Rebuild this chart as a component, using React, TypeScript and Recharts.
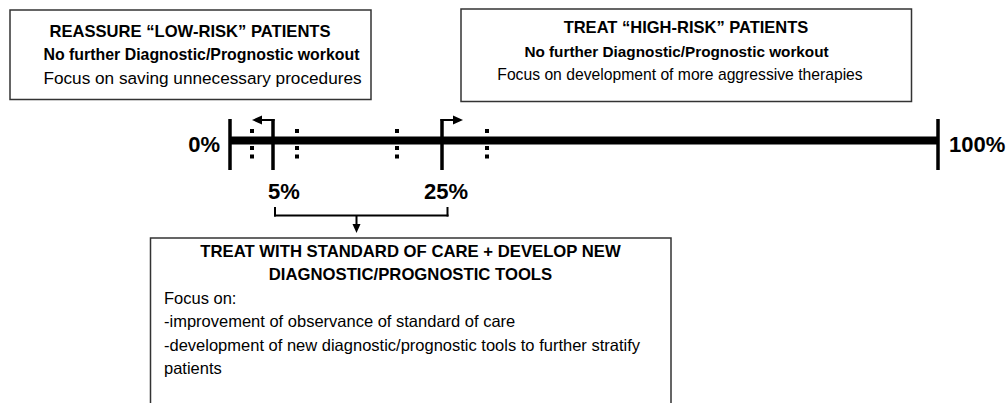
import React from 'react';
import { ScatterChart, Scatter, XAxis, YAxis, ReferenceLine, ReferenceArea } from 'recharts';

const W = 1007;
const H = 403;
const FONT = '"Liberation Sans", Arial, Helvetica, sans-serif';

// ---- risk scale ----
const thresholdLabels = ['0%', '5%', '25%', '100%'];
const thresholdPos = [230, 273, 442, 938];
const dottedPos = [252, 297, 397, 487];

// ---- box texts ----
const lowRiskLines = [
  'REASSURE \u201cLOW-RISK\u201d PATIENTS',
  'No further Diagnostic/Prognostic workout',
  'Focus on saving unnecessary procedures',
];
const highRiskLines = [
  'TREAT \u201cHIGH-RISK\u201d PATIENTS',
  'No further Diagnostic/Prognostic workout',
  'Focus on development of more aggressive therapies',
];
const midTitleLines = ['TREAT WITH STANDARD OF CARE + DEVELOP NEW', 'DIAGNOSTIC/PROGNOSTIC TOOLS'];
const midBodyLines = [
  'Focus on:',
  '-improvement of observance of standard of care',
  '-development of new diagnostic/prognostic tools to further stratify',
  'patients',
];

// ---- layout (diagram units mapped by the chart scales) ----
const boxes = [
  { x1: 10, x2: 371, y1: 10, y2: 99.5 },
  { x1: 461, x2: 911.5, y1: 9, y2: 101.5 },
  { x1: 150.5, x2: 671, y1: 238, y2: 420 },
];
const lowCenters = [190, 201.5, 202.5];
const lowBaselines = [36.5, 60, 83.5];
const lowSizes = [16.6, 15.9, 17.2];
const highCenters = [686, 676.5, 680];
const highBaselines = [33, 56.5, 80];
const highSizes = [16.5, 15.3, 15.7];
const midTitleBaselines = [256.5, 280];
const midBodyBaselines = [303.5, 327, 350.5, 374];
const BAR_Y = 140.5;
const TICK_TOP = 119;
const TICK_BOTTOM = 170;
const ARROW_Y = 120;

type TextItem = { x: number; y: number; text: string; bold: boolean; anchor: string; size: number };

const textItems: TextItem[] = [
  ...lowRiskLines.map((t, i) => ({ x: lowCenters[i], y: lowBaselines[i], text: t, bold: i < 2, anchor: 'middle', size: lowSizes[i] })),
  ...highRiskLines.map((t, i) => ({ x: highCenters[i], y: highBaselines[i], text: t, bold: i < 2, anchor: 'middle', size: highSizes[i] })),
  ...midTitleLines.map((t, i) => ({ x: 410.5, y: midTitleBaselines[i], text: t, bold: true, anchor: 'middle', size: 16.7 })),
  ...midBodyLines.map((t, i) => ({ x: 164, y: midBodyBaselines[i], text: t, bold: false, anchor: 'start', size: 16.5 })),
  { x: 220, y: 151.5, text: thresholdLabels[0], bold: true, anchor: 'end', size: 22 },
  { x: 268, y: 199, text: thresholdLabels[1], bold: true, anchor: 'start', size: 22 },
  { x: 424, y: 199, text: thresholdLabels[2], bold: true, anchor: 'start', size: 22 },
  { x: 949, y: 151.5, text: thresholdLabels[3], bold: true, anchor: 'start', size: 22 },
];

const arrowHeads = [
  { x: 252, y: ARROW_Y, dir: 'left' },
  { x: 463, y: ARROW_Y, dir: 'right' },
  { x: 356.5, y: 233, dir: 'down' },
];

const TextShape = (props: any) => {
  const { cx, cy, payload } = props;
  if (cx == null || cy == null) return null;
  return (
    <text
      x={cx}
      y={cy}
      textAnchor={payload.anchor}
      fontFamily={FONT}
      fontSize={payload.size}
      fontWeight={payload.bold ? 700 : 400}
      fill="#000"
    >
      {payload.text}
    </text>
  );
};

const ArrowShape = (props: any) => {
  const { cx, cy, payload } = props;
  if (cx == null || cy == null) return null;
  let pts = '';
  if (payload.dir === 'left') pts = `${cx},${cy} ${cx + 10},${cy - 4.5} ${cx + 10},${cy + 4.5}`;
  else if (payload.dir === 'right') pts = `${cx},${cy} ${cx - 10},${cy - 4.5} ${cx - 10},${cy + 4.5}`;
  else pts = `${cx},${cy} ${cx - 4},${cy - 9} ${cx + 4},${cy - 9}`;
  return <polygon points={pts} fill="#000" />;
};

const seg = (x1: number, y1: number, x2: number, y2: number) => [
  { x: x1, y: y1 },
  { x: x2, y: y2 },
];

export default function App() {
  const [p0, p5, p25, p100] = thresholdPos;
  return (
    <div style={{ position: 'absolute', left: 0, top: 0, width: W, height: H, background: '#fff' }}>
      <ScatterChart width={W} height={H} margin={{ top: 0, right: 0, bottom: 0, left: 0 }}>
        <XAxis type="number" dataKey="x" domain={[0, W]} hide allowDataOverflow />
        <YAxis type="number" dataKey="y" domain={[0, H]} reversed hide allowDataOverflow />

        {boxes.map((b, i) => (
          <ReferenceArea
            key={`box${i}`}
            x1={b.x1}
            x2={b.x2}
            y1={b.y1}
            y2={b.y2}
            fill="none"
            fillOpacity={0}
            stroke="#333"
            strokeWidth={1.5}
            ifOverflow="visible"
          />
        ))}

        {dottedPos.map((x, i) => (
          <ReferenceLine
            key={`dot${i}`}
            segment={seg(x, 129, x, 158.5)}
            stroke="#000"
            strokeWidth={4}
            strokeDasharray="4 4.5"
            ifOverflow="visible"
          />
        ))}

        <ReferenceLine segment={seg(p0, BAR_Y, p100, BAR_Y)} stroke="#000" strokeWidth={8} ifOverflow="visible" />

        {thresholdPos.map((x, i) => (
          <ReferenceLine
            key={`tick${i}`}
            segment={seg(x, TICK_TOP, x, TICK_BOTTOM)}
            stroke="#000"
            strokeWidth={3.5}
            ifOverflow="visible"
          />
        ))}

        <ReferenceLine segment={seg(p5 + 1.5, ARROW_Y, 261, ARROW_Y)} stroke="#000" strokeWidth={2} ifOverflow="visible" />
        <ReferenceLine segment={seg(p25 - 1.5, ARROW_Y, 454, ARROW_Y)} stroke="#000" strokeWidth={2} ifOverflow="visible" />

        <ReferenceLine segment={seg(275, 207, 275, 216.5)} stroke="#000" strokeWidth={2} ifOverflow="visible" />
        <ReferenceLine segment={seg(274, 215.5, 448.5, 215.5)} stroke="#000" strokeWidth={2} ifOverflow="visible" />
        <ReferenceLine segment={seg(447.5, 207, 447.5, 216.5)} stroke="#000" strokeWidth={2} ifOverflow="visible" />
        <ReferenceLine segment={seg(356.5, 215.5, 356.5, 225)} stroke="#000" strokeWidth={2} ifOverflow="visible" />

        <Scatter data={arrowHeads} shape={<ArrowShape />} isAnimationActive={false} />
        <Scatter data={textItems} shape={<TextShape />} isAnimationActive={false} />
      </ScatterChart>
    </div>
  );
}
